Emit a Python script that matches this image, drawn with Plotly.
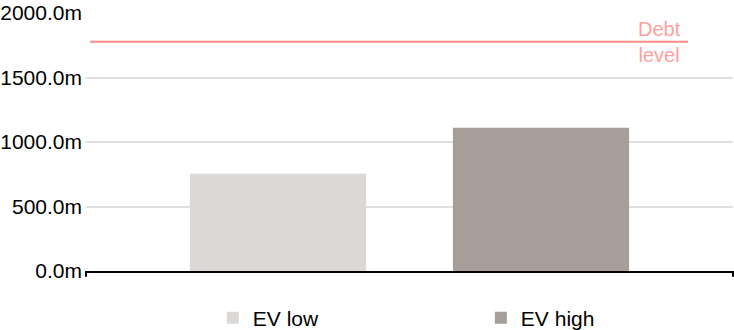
import plotly.graph_objects as go

# Enterprise value scenarios vs. outstanding debt (in millions)
categories = ["EV low", "EV high"]
values = [754, 1111]
colors = ["#DCD8D5", "#A89E99"]
debt_level = 1777
debt_label = "Debt<br>level"
y_ticks = [0, 500, 1000, 1500, 2000]
y_tick_labels = [f"{v:.1f}m" for v in y_ticks]

FONT = "Liberation Sans, Arial, sans-serif"

fig = go.Figure()
for name, val, col in zip(categories, values, colors):
    fig.add_trace(go.Bar(
        x=[name], y=[val], name=name,
        marker=dict(color=col, line=dict(width=0)),
        width=0.67,
        hoverinfo="skip",
    ))

# Debt level reference line with its label at the right end
fig.add_shape(type="line", xref="x", yref="y",
              x0=-0.715, x1=1.559, y0=debt_level, y1=debt_level,
              line=dict(color="#F88C8C", width=2))
fig.add_annotation(x=1.452, y=debt_level, xref="x", yref="y",
                   text=debt_label, showarrow=False,
                   font=dict(family=FONT, size=20, color="#FFA0A0"),
                   xanchor="center", yanchor="middle")

# Small end ticks on the baseline
for xp in (0, 1):
    fig.add_shape(type="line", xref="paper", yref="paper",
                  x0=xp, x1=xp, y0=0, y1=-0.022,
                  line=dict(color="black", width=2))

fig.update_layout(
    width=734, height=330,
    margin=dict(l=86, r=1, t=13, b=59, autoexpand=False),
    paper_bgcolor="white", plot_bgcolor="white",
    barmode="overlay",
    font=dict(family=FONT, size=21, color="black"),
    showlegend=True,
    legend=dict(
        orientation="h",
        xref="container", yref="container",
        x=0.290, xanchor="left",
        y=0.036, yanchor="middle",
        entrywidth=223, entrywidthmode="pixels",
        itemwidth=30,
        font=dict(family=FONT, size=21, color="black"),
        bgcolor="rgba(0,0,0,0)",
    ),
)
fig.update_xaxes(
    type="category", range=[-0.73, 1.73],
    showticklabels=False, ticks="",
    showgrid=False, zeroline=False,
    showline=True, linecolor="black", linewidth=2,
    fixedrange=True, automargin=False,
)
fig.update_yaxes(
    range=[0, 2000], tickvals=y_ticks, ticktext=y_tick_labels,
    ticklabelstandoff=3,
    showgrid=True, gridcolor="#E2E0DE", gridwidth=2,
    zeroline=False, showline=False, ticks="",
    fixedrange=True, automargin=False,
)

fig.write_html("out.html")
